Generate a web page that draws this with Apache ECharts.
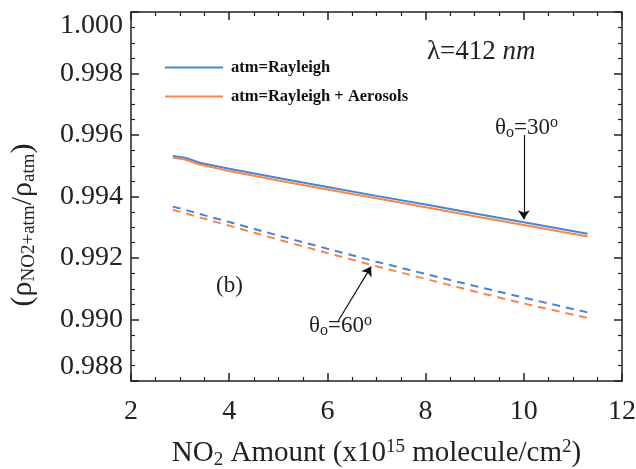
<!doctype html>
<html>
    <head>
        <meta charset="utf-8">
        <style>
            html, body { margin: 0; padding: 0; background: #fff; }
            #main { width: 636px; height: 469px; }
        </style>
    </head>
    <body>
        <div id="main"></div>
        <script src="https://cdn.jsdelivr.net/npm/echarts@6/dist/echarts.min.js"></script>
        <script>
            var chart = echarts.init(document.getElementById('main'));

            // NO2 amount (x10^15 molecule/cm2)
            var amount = [2.85, 3.1, 3.4, 4, 5, 6, 7, 8, 9, 10, 11.3];
            // theta_o = 30
            var ray30 = [0.99532, 0.99526, 0.99510, 0.99490, 0.99460, 0.99431, 0.99402, 0.99374, 0.99345, 0.99316, 0.99279];
            var aer30 = [0.99527, 0.99520, 0.99504, 0.99483, 0.99452, 0.99423, 0.99394, 0.99365, 0.99336, 0.99307, 0.99270];
            // theta_o = 60
            var ray60 = [0.99367, 0.99357, 0.99343, 0.99317, 0.99273, 0.99230, 0.99188, 0.99148, 0.99109, 0.99071, 0.99023];
            var aer60 = [0.99357, 0.99346, 0.99332, 0.99305, 0.99260, 0.99216, 0.99173, 0.99132, 0.99091, 0.99052, 0.99005];

            var names = ['atm=Rayleigh', 'atm=Rayleigh + Aerosols'];
            var blue = '#4a83d6';
            var orange = '#f5874a';
            var serif = 'Liberation Serif';
            var ink = '#222';

            function pairs(ys) {
                return amount.map(function (x, i) { return [x, ys[i]]; });
            }

            function axisCommon(show) {
                return {
                    axisLine: { lineStyle: { color: ink, width: 1.5 } },
                    axisTick: { show: true, inside: true, length: 8, lineStyle: { color: ink, width: 1.5 } },
                    minorTick: { show: true, splitNumber: 4, length: 4, lineStyle: { color: ink, width: 1.2 } },
                    splitLine: { show: false },
                    axisLabel: { show: show }
                };
            }

            var xBottom = axisCommon(true);
            xBottom.type = 'value';
            xBottom.min = 2; xBottom.max = 12; xBottom.interval = 2;
            xBottom.axisLabel = { color: ink, fontFamily: serif, fontSize: 28, margin: 17 };
            xBottom.name = '{t|NO}{s|2}{t| Amount (x10}{p|15}{t| molecule/cm}{p|2}{t|)}';
            xBottom.nameLocation = 'middle';
            xBottom.nameGap = 56;
            xBottom.nameTextStyle = {
                rich: {
                    t: { fontFamily: serif, fontSize: 29, color: ink },
                    s: { fontFamily: serif, fontSize: 19, color: ink, padding: [14, 0, 0, 0] },
                    p: { fontFamily: serif, fontSize: 19, color: ink, padding: [0, 0, 12, 0] }
                }
            };

            var xTop = axisCommon(false);
            xTop.type = 'value';
            xTop.position = 'top';
            xTop.min = 2; xTop.max = 12; xTop.interval = 2;

            var yLeft = axisCommon(true);
            yLeft.type = 'value';
            yLeft.min = 0.988; yLeft.max = 1.000; yLeft.interval = 0.002;
            yLeft.axisLabel = {
                color: ink, fontFamily: serif, fontSize: 28, margin: 8,
                verticalAlignMinLabel: 'bottom',
                verticalAlignMaxLabel: 'top',
                formatter: function (v) { return v.toFixed(3); }
            };

            var yRight = axisCommon(false);
            yRight.type = 'value';
            yRight.position = 'right';
            yRight.min = 0.988; yRight.max = 1.000; yRight.interval = 0.002;

            function series(name, ys, color, dashed) {
                return {
                    type: 'line',
                    name: name,
                    data: pairs(ys),
                    symbol: 'none',
                    xAxisIndex: 0,
                    yAxisIndex: 0,
                    lineStyle: { color: color, width: 2, type: dashed ? [8, 6] : 'solid' },
                    itemStyle: { color: color },
                    emphasis: { disabled: true }
                };
            }

            var arrowStyle = { color: '#111', width: 1.2, type: 'solid' };

            var s1 = series(names[0], ray30, blue, false);
            s1.markLine = {
                silent: true,
                symbol: ['none', 'arrow'],
                symbolSize: 9,
                label: { show: false },
                lineStyle: arrowStyle,
                data: [
                    [{ coord: [10, 0.99600] }, { coord: [10, 0.99326] }],
                    [{ coord: [6.22, 0.98995] }, { coord: [6.89, 0.99172] }]
                ]
            };

            var thetaRich = {
                t: { fontFamily: serif, fontSize: 23, fill: ink },
                s: { fontFamily: serif, fontSize: 16, fill: ink, padding: [11, 0, 0, 0] },
                p: { fontFamily: serif, fontSize: 16, fill: ink, padding: [0, 0, 9, 0] }
            };

            chart.setOption({
                animation: false,
                backgroundColor: '#fff',
                grid: { left: 131, right: 14, top: 12, bottom: 88, outerBoundsMode: 'none', containLabel: false },
                xAxis: [xBottom, xTop],
                yAxis: [yLeft, yRight],
                legend: {
                    data: names,
                    orient: 'vertical',
                    left: 160,
                    top: 54,
                    itemWidth: 58,
                    itemHeight: 16,
                    itemGap: 12,
                    icon: 'path://M0,7 L58,7 L58,9 L0,9 Z',
                    selectedMode: false,
                    textStyle: { fontFamily: serif, fontWeight: 'bold', fontSize: 16.5, color: '#111', padding: [0, 0, 0, 3] }
                },
                graphic: [
                    {
                        type: 'text',
                        left: 427, top: 38,
                        style: {
                            text: '{a|λ=412 }{b|nm}',
                            rich: {
                                a: { fontFamily: serif, fontSize: 27, fill: ink },
                                b: { fontFamily: serif, fontSize: 27, fontStyle: 'italic', fill: ink }
                            }
                        }
                    },
                    {
                        type: 'text',
                        left: 216, top: 274,
                        style: { text: '(b)', fontFamily: serif, fontSize: 23, fill: ink }
                    },
                    {
                        type: 'text',
                        left: 495, top: 115,
                        style: { text: '{t|θ}{s|o}{t|=30}{p|o}', rich: thetaRich }
                    },
                    {
                        type: 'text',
                        left: 309, top: 313,
                        style: { text: '{t|θ}{s|o}{t|=60}{p|o}', rich: thetaRich }
                    },
                    {
                        type: 'text',
                        x: 23, y: 225,
                        rotation: Math.PI / 2,
                        style: {
                            text: '{t|(ρ}{s|NO2+atm}{t|/ρ}{s|atm}{t|)}',
                            align: 'center',
                            verticalAlign: 'middle',
                            rich: {
                                t: { fontFamily: serif, fontSize: 30, fill: ink },
                                s: { fontFamily: serif, fontSize: 19, fill: ink, padding: [13, 0, 0, 0] }
                            }
                        }
                    }
                ],
                series: [
                    s1,
                    series(names[1], aer30, orange, false),
                    series('ray60', ray60, blue, true),
                    series('aer60', aer60, orange, true)
                ]
            });

            window.addEventListener('resize', function () {
                chart.resize();
            });
        </script>
    </body>
</html>
